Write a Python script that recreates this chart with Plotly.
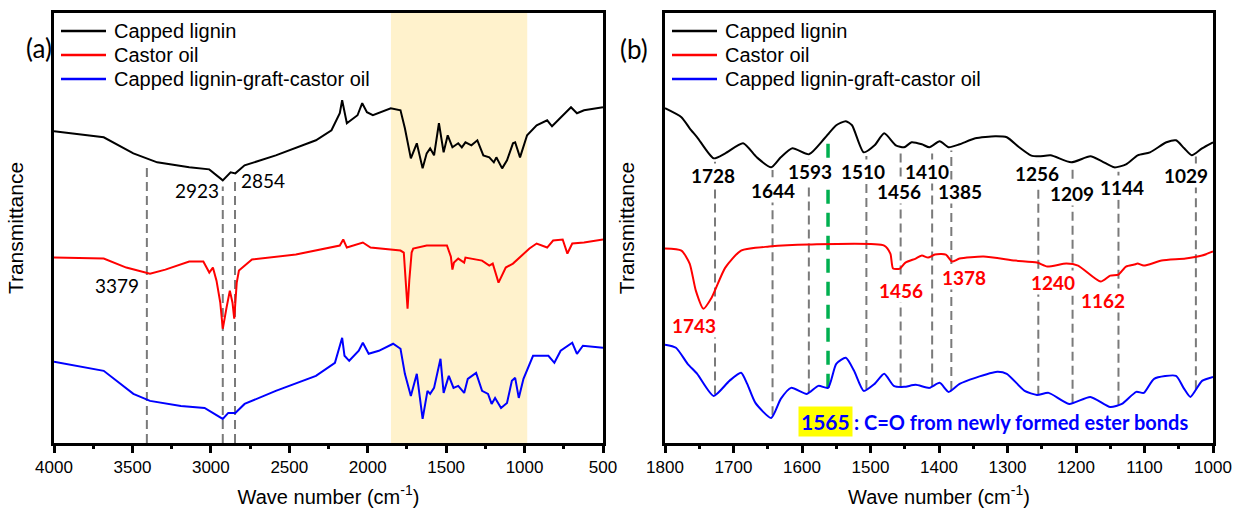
import numpy as np
import plotly.graph_objects as go

# ---------------- data ----------------
# Panel (a): full FTIR spectra (wavenumber, offset transmittance a.u.)
a_black_wn = [4000,3683,3494,3342,3138,3010,2924,2874,2844,2785,2586,2330,2231,2178,2163,2133,2065,2035,2005,1967,
              1853,1791,1763,1725,1687,1650,1624,1602,1577,1546,1516,1490,1460,1423,1400,1377,1339,1301,1263,1225,
              1196,1180,1143,1112,1074,1060,1029,984,923,856,825,770,704,666,621,500]
a_black = [311,305,289,280,275,273,262,270,269,277,287,302,312,329,342,319,327,339,330,327,
           334,332,314,284,299,274,289,294,287,319,290,307,295,299,295,300,297,302,287,285,
           280,285,274,282,299,300,285,307,317,322,316,325,335,329,332,335]

a_red_wn = [4000,3683,3539,3388,3290,3138,3048,3010,2987,2964,2940,2924,2900,2879,2862,2851,2835,2821,2738,2458,
            2178,2156,2133,2031,1982,1791,1770,1755,1746,1735,1720,1710,1624,1495,1470,1460,1450,1423,1385,1377,
            1271,1225,1203,1166,1120,1074,969,923,856,818,757,727,696,621,500]
a_red = [185,184,175,169,173,181,181,170,175,162,140,114,135,152,140,124,160,172,183,188,
         197,203,195,200,195,192,190,157,134,162,190,194,197,197,186,173,180,184,180,185,
         182,177,179,160,175,179,194,199,195,202,203,189,199,200,203]

a_blue_wn = [4000,3683,3494,3388,3191,3040,2924,2889,2844,2785,2586,2330,2209,2163,2148,2118,2057,2031,1994,1929,
             1838,1791,1763,1725,1687,1650,1619,1602,1577,1536,1516,1483,1453,1423,1385,1362,1309,1271,1233,1210,
             1188,1150,1112,1081,1060,1037,1007,946,848,810,770,696,666,628,500]
a_blue = [81,72,49,42,37,35,24,30,30,39,52,67,80,105,87,82,92,100,89,92,
          99,94,69,47,69,24,52,49,55,84,50,67,55,57,50,64,70,52,49,39,
          45,35,40,62,65,45,64,87,87,80,92,100,89,97,95]

# Panel (b): fingerprint region
b_black_wn = [1800,1776,1764,1753,1729,1712,1686,1666,1645,1631,1614,1590,1567,1550,1536,1527,1510,1494,1480,1463,
              1451,1440,1425,1414,1399,1386,1370,1347,1318,1301,1283,1266,1254,1237,1207,1179,1162,1144,1127,1110,
              1092,1068,1054,1042,1031,1016,1000]
b_black = [334,325,314,305,284,289,299,285,275,285,294,288,304,317,321,317,290,297,309,297,
           295,300,298,295,301,295,298,304,306,305,295,287,286,287,280,286,281,275,278,287,
           290,300,302,294,287,294,300]

b_red_wn = [1800,1776,1764,1755,1744,1732,1712,1689,1648,1590,1480,1471,1467,1457,1449,1434,1425,1416,1406,1390,
            1381,1370,1335,1289,1257,1242,1214,1197,1164,1150,1138,1127,1115,1110,1101,1075,1040,1016,1000]
b_red = [194,192,179,152,134,145,175,192,196,198,197,189,174,174,180,184,187,185,188,188,
         181,184,186,182,180,176,179,177,161,167,168,176,178,179,177,182,184,187,191]

b_blue_wn = [1800,1784,1767,1753,1729,1706,1689,1680,1668,1645,1631,1616,1593,1576,1562,1550,1536,1524,1510,1494,
             1480,1466,1451,1434,1414,1399,1386,1370,1347,1315,1301,1275,1257,1240,1210,1179,1150,1133,1112,1101,
             1086,1054,1043,1033,1016,1000]
b_blue = [98,95,79,69,47,62,70,59,40,25,44,55,49,57,55,79,85,72,52,59,
          69,57,56,58,55,60,51,59,65,71,69,52,48,50,39,46,36,39,51,50,
          64,67,55,46,62,66]

series_names = ["Capped lignin", "Castor oil", "Capped lignin-graft-castor oil"]
series_colors = ["#000000", "#ff0000", "#0000ff"]

# peak markers
a_peak_lines = [3408, 2924, 2846]
a_peak_labels = ["3379", "2923", "2854"]
b_peak_lines = [1727, 1643, 1590, 1506, 1456, 1410, 1382, 1255, 1205, 1138, 1025]
b_peak_labels = ["1728", "1644", "1593", "1510", "1456", "1410", "1385", "1256", "1209", "1144", "1029"]
b_red_labels = ["1743", "1456", "1378", "1240", "1162"]
ester_peak = 1562
ester_label = "1565"
ester_text = ": C=O from newly formed ester bonds"
shade_range = [1852, 983]

# label placement (wavenumber, y)
a_label_pos = [(3597, 157), (3086, 252), (2665, 262)]
b_label_pos = [(1730, 267), (1642, 252), (1588, 271), (1511, 271), (1459, 251), (1418, 271),
               (1370, 251), (1257, 269), (1206, 249), (1133, 255), (1039, 267)]
b_red_pos = [(1758, 117), (1456, 152), (1363, 165), (1233, 160), (1161, 142)]

# ---------------- figure ----------------
W, H = 1234, 510
ML, MR, MT, MB = 54, 21, 13, 67
PW, PH = W - ML - MR, H - MT - MB
def fx(px): return (px - ML) / PW
def fy(py): return (H - MB - py) / PH

A_LEFT, A_RIGHT, B_LEFT, B_RIGHT = 54, 603, 665, 1213

fig = go.Figure()
a_sets = [(a_black_wn, a_black), (a_red_wn, a_red), (a_blue_wn, a_blue)]
b_sets = [(b_black_wn, b_black), (b_red_wn, b_red), (b_blue_wn, b_blue)]
for (wn, v), name, col in zip(a_sets, series_names, series_colors):
    fig.add_trace(go.Scatter(x=wn, y=v, mode="lines", name=name, line=dict(color=col, width=2),
                             xaxis="x", yaxis="y", showlegend=False))
for (wn, v), name, col in zip(b_sets, series_names, series_colors):
    fig.add_trace(go.Scatter(x=wn, y=v, mode="lines", name=name,
                             line=dict(color=col, width=2, shape="spline", smoothing=0.6),
                             xaxis="x2", yaxis="y2", showlegend=False))

def interp(x, wn, v):
    return float(np.interp(x, wn[::-1], v[::-1]))

shapes = []
shapes.append(dict(type="rect", xref="x", yref="y domain", x0=shade_range[0], x1=shade_range[1],
                   y0=0, y1=1, fillcolor="#FFF2CC", line=dict(width=0), layer="below"))
grey = dict(color="#7a7a7a", width=2, dash="9px,5px")
for w in a_peak_lines:
    shapes.append(dict(type="line", xref="x", yref="y", x0=w, x1=w, y0=0,
                       y1=interp(w, a_black_wn, a_black) - 6, line=grey, layer="below"))
for w in b_peak_lines:
    shapes.append(dict(type="line", xref="x2", yref="y2", x0=w, x1=w,
                       y0=interp(w, b_blue_wn, b_blue), y1=interp(w, b_black_wn, b_black) - 4,
                       line=grey, layer="below"))
shapes.append(dict(type="line", xref="x2", yref="y2", x0=ester_peak, x1=ester_peak,
                   y0=interp(ester_peak, b_blue_wn, b_blue), y1=interp(ester_peak, b_black_wn, b_black),
                   line=dict(color="#00b050", width=3.5, dash="14px,9px"), layer="below"))

ann = []
num_font = "Lato"
for t, (x, y) in zip(a_peak_labels, a_label_pos):
    ann.append(dict(x=x, y=y, xref="x", yref="y", text=t, showarrow=False,
                    font=dict(family=num_font, size=19, color="black")))
for t, (x, y) in zip(b_peak_labels, b_label_pos):
    ann.append(dict(x=x, y=y, xref="x2", yref="y2", text="<b>%s</b>" % t, showarrow=False,
                    bgcolor="white", borderpad=0,
                    font=dict(family=num_font, size=19, color="black")))
for t, (x, y) in zip(b_red_labels, b_red_pos):
    ann.append(dict(x=x, y=y, xref="x2", yref="y2", text="<b>%s</b>" % t, showarrow=False,
                    bgcolor="white", borderpad=0,
                    font=dict(family=num_font, size=19, color="#ff0000")))
ann.append(dict(x=1526, y=21, xref="x2", yref="y2", text="<b>%s</b>" % ester_label, showarrow=False,
                xanchor="right", bgcolor="#ffff00", borderpad=2,
                font=dict(family=num_font, size=21, color="#0000ff")))
ann.append(dict(x=1526, y=21, xref="x2", yref="y2", text="<b>%s</b>" % ester_text, showarrow=False,
                xanchor="left", borderpad=0,
                font=dict(family=num_font, size=20, color="#0000ff")))
ann.append(dict(x=fx(24), y=fy(30), xref="paper", yref="paper", text="(a)", showarrow=False,
                font=dict(family=num_font, size=26, color="black")))
ann.append(dict(x=fx(B_LEFT - 31), y=fy(31), xref="paper", yref="paper", text="(b)", showarrow=False,
                font=dict(family=num_font, size=26, color="black")))

# legends (one per panel): line samples + names
leg_rows = [31, 55, 79]
for left in (A_LEFT, B_LEFT):
    for name, col, ry in zip(series_names, series_colors, leg_rows):
        shapes.append(dict(type="line", xref="paper", yref="paper", x0=fx(left + 7), x1=fx(left + 52),
                           y0=fy(ry), y1=fy(ry), line=dict(color=col, width=2.5)))
        ann.append(dict(x=fx(left + 58), y=fy(ry), xref="paper", yref="paper", text=name,
                        showarrow=False, xanchor="left", yanchor="middle",
                        font=dict(family="Liberation Sans", size=20, color="black")))

tickfont = dict(family="Liberation Sans", size=17, color="black")
titlefont = dict(family="Liberation Sans", size=20, color="black")
def xax(domain, rng, dtick, minor, anchor):
    return dict(domain=domain, range=rng, anchor=anchor, dtick=dtick, tick0=0, ticks="outside",
                ticklen=7, tickwidth=2.5, tickcolor="black", showline=True, linewidth=2.5,
                linecolor="black", mirror=True, showgrid=False, zeroline=False, tickfont=tickfont,
                automargin=False,
                title=dict(text="Wave number (cm<sup>-1</sup>)", font=titlefont, standoff=14),
                minor=dict(dtick=minor, tick0=0, ticks="outside", ticklen=3.5, tickwidth=2.5,
                           tickcolor="black", showgrid=False))
def yax(anchor):
    return dict(domain=[0, 1], range=[0, 429], anchor=anchor, showticklabels=False, ticks="",
                showline=True, linewidth=2.5, linecolor="black", mirror=True, showgrid=False,
                zeroline=False, automargin=False,
                title=dict(text="Transmittance", font=dict(family="Liberation Sans", size=21, color="black"),
                           standoff=22))

xa = xax([fx(A_LEFT), fx(A_RIGHT)], [4000, 500], 500, 250, "y")
xb = xax([fx(B_LEFT), fx(B_RIGHT)], [1800, 1000], 100, 50, "y2")
fig.update_layout(
    width=W, height=H, margin=dict(l=ML, r=MR, t=MT, b=MB, autoexpand=False),
    paper_bgcolor="white", plot_bgcolor="white", showlegend=False,
    xaxis=xa, xaxis2=xb, yaxis=yax("x"), yaxis2=yax("x2"),
    shapes=shapes, annotations=ann,
)
fig.write_html("out.html", config={"displayModeBar": False},
               post_script="document.body.style.margin='0';document.body.style.overflow='hidden';")
